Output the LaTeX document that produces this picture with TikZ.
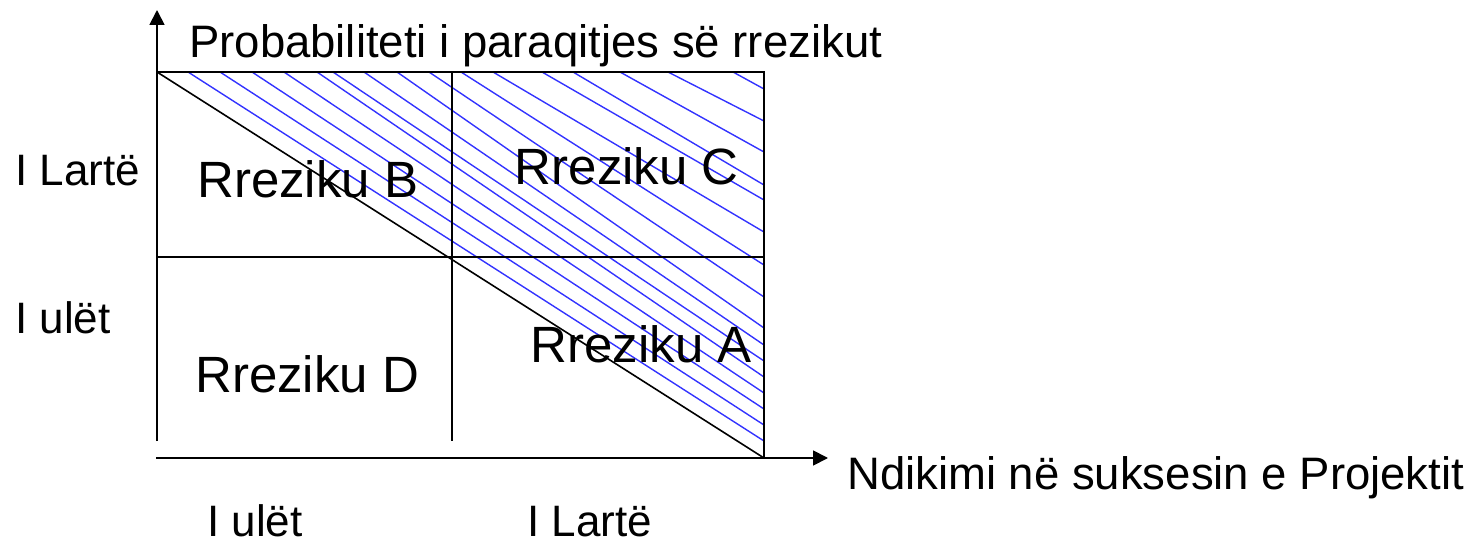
\documentclass[tikz,border=0pt]{standalone}
\usepackage{fontspec}
\setmainfont{Liberation Sans}
\usetikzlibrary{arrows.meta}
\definecolor{hatchblue}{RGB}{51,51,255}
\begin{document}
\begin{tikzpicture}[x=1pt,y=-1pt,
  lbl/.style={inner sep=0pt, anchor=base west, text depth=0pt, font=\fontsize{44}{52}\selectfont},
  axlbl/.style={inner sep=0pt, anchor=base west, text depth=0pt, font=\fontsize{45.5}{54}\selectfont},
  risk/.style={inner sep=0pt, font=\fontsize{51}{60}\selectfont},
  frameline/.style={line width=1.6pt, black},
  hatchline/.style={line width=1.4pt, hatchblue},
  axisline/.style={line width=1.8pt, black, -{Triangle[length=15pt,width=15pt]}}]
\useasboundingbox (0,0) rectangle (1472,545);
% corner coordinates
\coordinate (TL) at (157,72);
\coordinate (TM) at (452,72);
\coordinate (TR) at (764,72);
\coordinate (ML) at (157,257);
\coordinate (MR) at (764,257);
\coordinate (BM) at (452,441);
\coordinate (BR) at (764,458);
\coordinate (YB) at (157,441);
\coordinate (YT) at (157,10);
\coordinate (XL) at (156,458);
\coordinate (XR) at (828,458);
% hatching
\foreach \tx/\ry in {188/441,220/425,252/409,284/393,317/377,333/361,364/345,397/328,429/297,461/265,493/232,542/200,573/185,620/152,668/121,733/89}
  \draw[hatchline] (\tx,72) -- (764,\ry);
% frame
\draw[frameline] (TL) -- (TR) -- (BR);
\draw[frameline] (ML) -- (MR);
\draw[frameline] (TM) -- (BM);
\draw[frameline] (TL) -- (BR);
% axes
\draw[axisline] (YB) -- (YT);
\draw[axisline] (XL) -- (XR);
% labels
\node[axlbl] (title) at (189,58) {Probabiliteti i paraqitjes së rrezikut};
\node[lbl] (yhigh) at (15,186) {I Lartë};
\node[lbl] (ylow) at (15,334) {I ulët};
\node[lbl] (xlow) at (207,536) {I ulët};
\node[lbl] (xhigh) at (527,536) {I Lartë};
\node[axlbl] (xtitle) at (847,489) {Ndikimi në suksesin e Projektit};
\node[risk, anchor=base west] (rB) at (197,198) {Rreziku B};
\node[risk, anchor=base east] (rC) at (739,185) {Rreziku C};
\node[risk, anchor=base west] (rD) at (195,392) {Rreziku D};
\node[risk, anchor=base east] (rA) at (752,362) {Rreziku A};
\end{tikzpicture}
\end{document}
